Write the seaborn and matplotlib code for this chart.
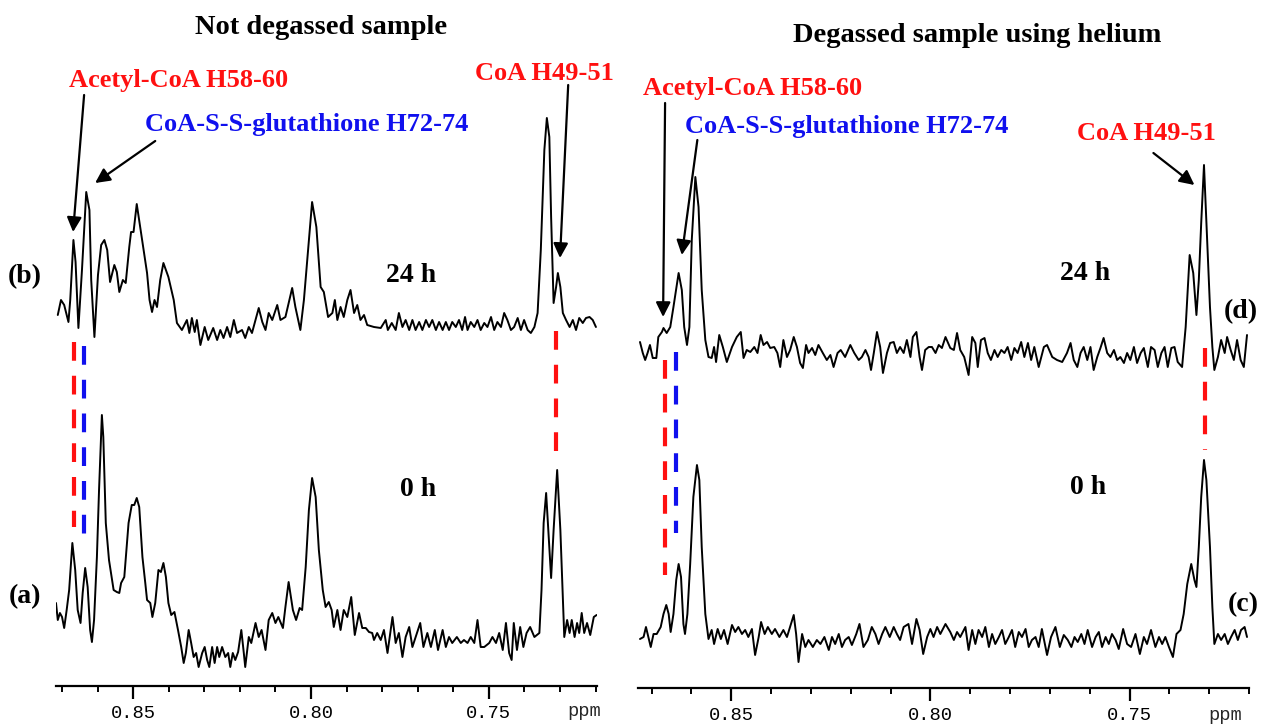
import numpy as np
import matplotlib
matplotlib.use("Agg")
import matplotlib.pyplot as plt
import seaborn as sns
from matplotlib.ticker import FixedLocator, MultipleLocator, FormatStrFormatter

# ---------------- data (ppm, intensity above baseline) ----------------
# left panel, 24 h (b)
b_ppm = [0.8712, 0.8703, 0.8694, 0.8682, 0.8677, 0.8668, 0.8662, 0.8654, 0.8644, 0.8632,
         0.8623, 0.8618, 0.8609, 0.8599, 0.8590, 0.8581, 0.8573, 0.8565, 0.8553, 0.8546,
         0.8539, 0.8529, 0.8521, 0.8511, 0.8506, 0.8499, 0.8490, 0.8475, 0.8461, 0.8454,
         0.8447, 0.8440, 0.8433, 0.8424, 0.8415, 0.8401, 0.8386, 0.8377, 0.8363, 0.8349,
         0.8342, 0.8335, 0.8327, 0.8321, 0.8311, 0.8299, 0.8289, 0.8275, 0.8264, 0.8255,
         0.8246, 0.8236, 0.8227, 0.8217, 0.8208, 0.8194, 0.8185, 0.8175, 0.8166, 0.8147,
         0.8137, 0.8128, 0.8119, 0.8109, 0.8095, 0.8086, 0.8072, 0.8053, 0.8044, 0.8030,
         0.8020, 0.8006, 0.7997, 0.7985, 0.7973, 0.7964, 0.7952, 0.7940, 0.7933, 0.7926,
         0.7917, 0.7908, 0.7898, 0.7889, 0.7879, 0.7870, 0.7861, 0.7851, 0.7842, 0.7823,
         0.7804, 0.7790, 0.7784, 0.7773, 0.7762, 0.7753, 0.7743, 0.7734, 0.7724, 0.7715,
         0.7706, 0.7696, 0.7687, 0.7677, 0.7668, 0.7659, 0.7649, 0.7640, 0.7630, 0.7621,
         0.7612, 0.7603, 0.7593, 0.7584, 0.7575, 0.7567, 0.7560, 0.7551, 0.7541, 0.7532,
         0.7523, 0.7513, 0.7504, 0.7494, 0.7485, 0.7476, 0.7466, 0.7457, 0.7448, 0.7438,
         0.7429, 0.7419, 0.7410, 0.7401, 0.7391, 0.7382, 0.7372, 0.7363, 0.7354, 0.7344,
         0.7337, 0.7330, 0.7325, 0.7318, 0.7311, 0.7306, 0.7299, 0.7292, 0.7283, 0.7273,
         0.7264, 0.7255, 0.7246, 0.7236, 0.7227, 0.7217, 0.7208, 0.7199]
b_int = [15, 30, 25, 8, 30, 90, 68, 2, 60, 138,
         120, 50, -7, 55, 85, 90, 80, 48, 65, 58,
         38, 50, 47, 83, 98, 98, 126, 90, 57, 30,
         18, 30, 23, 50, 67, 53, 30, 7, 0, 10,
         -3, 12, -2, 10, -15, 3, -10, 2, -10, 0,
         -8, 3, -7, 10, -3, 0, -8, 3, -3, 22,
         8, 0, 17, 10, 25, 10, 13, 42, 23, 0,
         30, 90, 128, 103, 43, 38, 13, 17, 30, 10,
         23, 13, 30, 40, 17, 25, 10, 15, 5, 3,
         2, 10, 0, 7, 0, 17, 3, 10, 0, 10,
         0, 8, 0, 10, 3, 10, 0, 8, 0, 8,
         0, 8, 3, 10, 0, 13, 0, 8, 3, 10,
         0, 7, 3, 13, 0, 8, 3, 17, 10, 0,
         3, 12, 0, 10, 0, -3, 3, 17, 80, 180,
         212, 193, 113, 27, 43, 57, 43, 17, 10, 3,
         10, 0, 12, 7, 12, 13, 10, 3]

# left panel, 0 h (a)
a_ppm = [0.8717, 0.8712, 0.8706, 0.8700, 0.8694, 0.8687, 0.8680, 0.8671, 0.8663, 0.8656,
         0.8648, 0.8642, 0.8635, 0.8628, 0.8621, 0.8616, 0.8610, 0.8602, 0.8596, 0.8588,
         0.8584, 0.8577, 0.8568, 0.8555, 0.8546, 0.8539, 0.8534, 0.8525, 0.8513, 0.8504,
         0.8497, 0.8490, 0.8483, 0.8474, 0.8466, 0.8461, 0.8452, 0.8446, 0.8438, 0.8429,
         0.8422, 0.8415, 0.8408, 0.8401, 0.8393, 0.8384, 0.8374, 0.8365, 0.8358, 0.8352,
         0.8344, 0.8337, 0.8330, 0.8323, 0.8316, 0.8306, 0.8299, 0.8292, 0.8286, 0.8278,
         0.8271, 0.8264, 0.8258, 0.8250, 0.8241, 0.8233, 0.8227, 0.8220, 0.8213, 0.8205,
         0.8196, 0.8189, 0.8185, 0.8175, 0.8168, 0.8156, 0.8147, 0.8139, 0.8128, 0.8119,
         0.8109, 0.8100, 0.8092, 0.8079, 0.8072, 0.8063, 0.8051, 0.8042, 0.8032, 0.8025,
         0.8015, 0.8006, 0.7997, 0.7987, 0.7978, 0.7967, 0.7959, 0.7950, 0.7942, 0.7936,
         0.7926, 0.7917, 0.7908, 0.7898, 0.7887, 0.7877, 0.7865, 0.7856, 0.7846, 0.7837,
         0.7828, 0.7823, 0.7814, 0.7804, 0.7795, 0.7785, 0.7771, 0.7762, 0.7753, 0.7743,
         0.7734, 0.7724, 0.7715, 0.7706, 0.7693, 0.7684, 0.7673, 0.7663, 0.7652, 0.7643,
         0.7630, 0.7621, 0.7612, 0.7603, 0.7590, 0.7579, 0.7570, 0.7560, 0.7551, 0.7541,
         0.7532, 0.7523, 0.7513, 0.7499, 0.7490, 0.7480, 0.7471, 0.7461, 0.7452, 0.7443,
         0.7436, 0.7430, 0.7421, 0.7412, 0.7403, 0.7394, 0.7384, 0.7372, 0.7358, 0.7352,
         0.7346, 0.7339, 0.7333, 0.7325, 0.7318, 0.7308, 0.7299, 0.7292, 0.7288, 0.7280,
         0.7273, 0.7267, 0.7259, 0.7252, 0.7246, 0.7239, 0.7232, 0.7224, 0.7215, 0.7205,
         0.7197]
a_int = [42, 25, 32, 28, 17, 35, 55, 102, 75, 35,
         22, 52, 77, 58, 15, 3, 25, 88, 155, 230,
         208, 122, 85, 55, 53, 52, 62, 68, 122, 140,
         140, 147, 138, 88, 62, 45, 42, 28, 42, 75,
         73, 82, 68, 42, 30, 33, 15, -2, -18, -8,
         15, 2, -12, -8, -22, -8, -2, -15, -22, -2,
         -18, -2, -12, -2, -12, -8, -22, -8, -15, -7,
         15, -8, -22, 8, 2, 22, 8, 15, -5, 25,
         32, 22, 28, 17, 38, 63, 35, 25, 37, 35,
         78, 135, 167, 148, 95, 55, 38, 43, 35, 18,
         35, 15, 35, 28, 48, 10, 32, 17, 17, 13,
         12, 5, 12, 5, 15, -8, 28, 2, 12, -12,
         8, 18, -2, 8, 22, -2, 12, -2, 15, -5,
         15, -2, 8, 2, 8, 2, 5, 2, 8, 2,
         25, -2, -2, 2, 8, 2, 12, -5, 22, -8,
         -15, 22, -5, 18, -2, 12, 18, 8, 12, 55,
         122, 152, 115, 67, 115, 175, 115, 48, 8, 25,
         12, 25, 8, 22, 12, 32, 12, 22, 10, 28,
         30]

# right panel, 24 h (d)
d_ppm = [0.8729, 0.8722, 0.8716, 0.8710, 0.8704, 0.8697, 0.8688, 0.8683, 0.8674, 0.8670,
         0.8662, 0.8653, 0.8645, 0.8632, 0.8624, 0.8618, 0.8611, 0.8605, 0.8599, 0.8590,
         0.8582, 0.8574, 0.8565, 0.8557, 0.8549, 0.8543, 0.8538, 0.8530, 0.8521, 0.8511,
         0.8498, 0.8486, 0.8476, 0.8469, 0.8461, 0.8452, 0.8442, 0.8434, 0.8426, 0.8419,
         0.8410, 0.8402, 0.8392, 0.8384, 0.8377, 0.8369, 0.8360, 0.8352, 0.8343, 0.8335,
         0.8327, 0.8320, 0.8312, 0.8306, 0.8297, 0.8289, 0.8281, 0.8270, 0.8260, 0.8251,
         0.8243, 0.8233, 0.8225, 0.8214, 0.8201, 0.8191, 0.8180, 0.8172, 0.8163, 0.8155,
         0.8149, 0.8142, 0.8134, 0.8126, 0.8119, 0.8109, 0.8101, 0.8092, 0.8084, 0.8076,
         0.8067, 0.8059, 0.8050, 0.8044, 0.8035, 0.8027, 0.8021, 0.8013, 0.8004, 0.7996,
         0.7987, 0.7979, 0.7971, 0.7962, 0.7950, 0.7941, 0.7933, 0.7925, 0.7915, 0.7904,
         0.7895, 0.7887, 0.7881, 0.7873, 0.7864, 0.7856, 0.7848, 0.7839, 0.7831, 0.7822,
         0.7814, 0.7806, 0.7797, 0.7789, 0.7781, 0.7772, 0.7764, 0.7755, 0.7747, 0.7739,
         0.7728, 0.7715, 0.7707, 0.7694, 0.7682, 0.7669, 0.7657, 0.7648, 0.7640, 0.7631,
         0.7623, 0.7615, 0.7606, 0.7598, 0.7590, 0.7581, 0.7573, 0.7565, 0.7556, 0.7548,
         0.7539, 0.7531, 0.7523, 0.7514, 0.7506, 0.7498, 0.7489, 0.7481, 0.7472, 0.7464,
         0.7454, 0.7446, 0.7437, 0.7429, 0.7420, 0.7412, 0.7404, 0.7395, 0.7387, 0.7379,
         0.7368, 0.7359, 0.7349, 0.7340, 0.7332, 0.7326, 0.7320, 0.7313, 0.7307, 0.7298,
         0.7292, 0.7287, 0.7278, 0.7270, 0.7261, 0.7255, 0.7246, 0.7238, 0.7230, 0.7221,
         0.7213, 0.7205]
d_int = [13, 2, -5, 2, 10, -3, -3, 18, 23, 27,
         22, 28, 48, 82, 65, 28, 10, 28, 115, 178,
         148, 65, 15, -2, -3, 8, -7, 20, 8, -7,
         8, 18, 23, -3, 5, 3, 8, 2, 20, 10,
         13, 7, 8, 2, -12, 15, -2, 5, 18, 8,
         -8, -13, 10, 2, 7, 0, 10, 2, -5, 0,
         -12, 2, 5, -2, 10, 2, -5, -2, 5, -2,
         -15, 2, 23, 8, -18, 2, 12, 13, 2, 8,
         2, 15, -2, 18, 23, -2, -15, 5, 8, 8,
         2, 10, 7, 18, 7, 5, 22, 5, -2, -20,
         18, 12, -12, 15, 17, 2, -5, 5, -2, 5,
         2, 8, -5, 7, 2, 13, -2, 12, -5, 8,
         -12, 8, 10, -2, -5, -7, 2, 12, -5, -12,
         2, 8, -5, 8, -15, -2, 7, 17, 2, -2,
         5, -5, -2, -8, 2, -5, 8, -8, 2, 7,
         -12, 8, 5, -12, 2, 8, -12, 7, 8, -7,
         -12, 28, 100, 82, 40, 75, 132, 190, 132, 48,
         8, -15, -2, 15, 2, 18, 5, -5, 15, -5,
         -12, 20]

# right panel, 0 h (c)
c_ppm = [0.8729, 0.8720, 0.8714, 0.8708, 0.8702, 0.8695, 0.8687, 0.8677, 0.8670, 0.8663,
         0.8657, 0.8652, 0.8645, 0.8638, 0.8632, 0.8626, 0.8620, 0.8616, 0.8610, 0.8603,
         0.8595, 0.8586, 0.8580, 0.8574, 0.8565, 0.8557, 0.8549, 0.8543, 0.8534, 0.8526,
         0.8518, 0.8509, 0.8498, 0.8490, 0.8482, 0.8473, 0.8465, 0.8457, 0.8448, 0.8440,
         0.8431, 0.8425, 0.8416, 0.8408, 0.8398, 0.8390, 0.8379, 0.8369, 0.8360, 0.8350,
         0.8343, 0.8337, 0.8331, 0.8322, 0.8314, 0.8306, 0.8295, 0.8285, 0.8276, 0.8266,
         0.8255, 0.8247, 0.8239, 0.8230, 0.8222, 0.8214, 0.8205, 0.8197, 0.8186, 0.8178,
         0.8168, 0.8157, 0.8147, 0.8138, 0.8130, 0.8121, 0.8113, 0.8102, 0.8092, 0.8084,
         0.8076, 0.8067, 0.8055, 0.8046, 0.8035, 0.8027, 0.8018, 0.8008, 0.8000, 0.7992,
         0.7983, 0.7975, 0.7962, 0.7950, 0.7941, 0.7933, 0.7925, 0.7912, 0.7904, 0.7895,
         0.7887, 0.7879, 0.7870, 0.7862, 0.7853, 0.7845, 0.7837, 0.7828, 0.7820, 0.7812,
         0.7803, 0.7795, 0.7787, 0.7778, 0.7770, 0.7761, 0.7753, 0.7745, 0.7736, 0.7728,
         0.7720, 0.7707, 0.7697, 0.7686, 0.7675, 0.7665, 0.7655, 0.7646, 0.7638, 0.7630,
         0.7621, 0.7613, 0.7605, 0.7594, 0.7585, 0.7577, 0.7569, 0.7560, 0.7552, 0.7544,
         0.7535, 0.7527, 0.7516, 0.7506, 0.7496, 0.7485, 0.7474, 0.7464, 0.7456, 0.7446,
         0.7435, 0.7426, 0.7418, 0.7410, 0.7401, 0.7391, 0.7382, 0.7372, 0.7364, 0.7355,
         0.7345, 0.7337, 0.7332, 0.7326, 0.7320, 0.7313, 0.7307, 0.7298, 0.7292, 0.7287,
         0.7278, 0.7270, 0.7261, 0.7253, 0.7245, 0.7236, 0.7228, 0.7220, 0.7211, 0.7205]
c_int = [8, 10, 20, 10, 0, 13, 13, 20, 33, 42,
         33, 15, 33, 67, 83, 70, 23, 13, 33, 83,
         150, 182, 167, 100, 33, 8, 17, 3, 18, 8,
         17, 3, 22, 15, 20, 13, 17, 10, 18, -8,
         10, 25, 13, 20, 13, 18, 10, 17, 10, 23,
         32, 13, -15, 13, 0, 7, 0, 7, 3, 10,
         -3, 10, 3, 13, 0, 7, 10, 2, 13, 23,
         0, 7, 20, 13, 3, 13, 20, 10, 20, 13,
         7, 20, 23, 3, 28, 17, -7, 10, 18, 10,
         20, 13, 23, 15, 7, 15, 10, 20, -3, 17,
         3, 17, 10, 20, 0, 13, 3, 10, 17, 3,
         10, 17, 0, 15, 10, 18, 0, 7, 10, 0,
         18, -8, 10, 20, 0, 12, 7, 0, 10, 5,
         13, 3, 17, 0, 10, 15, 0, 10, 3, 13,
         7, -2, 18, 3, 0, 13, -7, 10, 3, 17,
         0, 10, 3, 10, 0, -10, 13, 17, 33, 63,
         83, 67, 60, 100, 150, 187, 167, 100, 40, 3,
         13, 7, 13, 3, 10, 17, 7, 17, 20, 10]

# peak positions marked with dashed guides
acetyl_ppm = 0.8667
glut_ppm = 0.8638
coa_ppm = 0.7310

major_ticks = [0.85, 0.80, 0.75]

# ---------------- figure ----------------
sns.set_theme(style="white")
plt.rcParams['font.family'] = ['Liberation Serif', 'DejaVu Serif']

W, H = 1263, 725
fig = plt.figure(figsize=(W / 100, H / 100), dpi=100)
fig.patch.set_facecolor('white')

RED = '#ff1010'
BLUE = '#1010ee'

# axes in pixel-like units: y = height above the bottom spine
ax_l = fig.add_axes([56 / W, (H - 686) / H, (597 - 56) / W, 686 / H])
ax_r = fig.add_axes([638 / W, (H - 688) / H, (1249 - 638) / W, 688 / H])


def style_axis(ax, xlim, ytop):
    ax.set_xlim(*xlim)
    ax.set_ylim(0, ytop)
    ax.set_facecolor('none')
    ax.grid(False)
    for s in ['top', 'left', 'right']:
        ax.spines[s].set_visible(False)
    ax.spines['bottom'].set_color('black')
    ax.spines['bottom'].set_linewidth(1.6)
    ax.xaxis.set_major_locator(FixedLocator(major_ticks))
    ax.xaxis.set_minor_locator(MultipleLocator(0.01))
    ax.xaxis.set_major_formatter(FormatStrFormatter('%.2f'))
    ax.tick_params(axis='x', which='major', direction='out', length=9, width=1.6,
                   pad=5, labelsize=13.5, bottom=True, colors='black',
                   labelfontfamily='Liberation Mono')
    ax.tick_params(axis='x', which='minor', direction='out', length=4.5, width=1.4,
                   bottom=True, colors='black')
    ax.set_yticks([])
    ax.set_xlabel('')
    ax.set_ylabel('')


def trace(ax, ppm, inten, offset):
    sns.lineplot(x=np.array(ppm), y=np.array(inten) + offset, ax=ax,
                 color='black', linewidth=1.4, estimator=None)


def guide(ax, x, top, bottom, color):
    ax.plot([x, x], [top, bottom], color=color, lw=3,
            linestyle=(0, (4.5, 3.6)), solid_capstyle='butt', dash_capstyle='butt')


def arrow(ax, tail, head):
    ax.annotate('', xy=head, xytext=tail,
                arrowprops=dict(arrowstyle='-|>', color='black', lw=1.6,
                                mutation_scale=22, shrinkA=0, shrinkB=0))


def label(ax, x, y, s, color='black', size=19):
    ax.text(x, y, s, color=color, fontsize=size, fontweight='bold',
            ha='center', va='center', clip_on=False)


# ---- left: not degassed ----
style_axis(ax_l, (0.8717, 0.7196), 686)
trace(ax_l, b_ppm, b_int, 356)
trace(ax_l, a_ppm, a_int, 41)

guide(ax_l, acetyl_ppm, 344, 159, RED)
guide(ax_l, glut_ppm, 340, 152, BLUE)
guide(ax_l, coa_ppm, 355, 234, RED)

arrow(ax_l, (0.8638, 591), (0.8669, 454))
arrow(ax_l, (0.8438, 545), (0.8607, 503))
arrow(ax_l, (0.7277, 601), (0.7300, 428))

label(ax_l, 0.7973, 658, 'Not degassed sample', size=20.5)
label(ax_l, 0.8373, 606, 'Acetyl-CoA H58-60', RED)
label(ax_l, 0.8013, 561, 'CoA-S-S-glutathione H72-74', BLUE)
label(ax_l, 0.7345, 613, 'CoA H49-51', RED)
label(ax_l, 0.8804, 409, '(b)', size=20)
label(ax_l, 0.8804, 89, '(a)', size=20)
label(ax_l, 0.7720, 411, '24 h', size=20)
label(ax_l, 0.7700, 196, '0 h', size=20)
ax_l.text(0.7232, -26, 'ppm', fontsize=13.5, family='Liberation Mono',
          ha='center', va='center', clip_on=False)

# ---- right: degassed with helium ----
style_axis(ax_r, (0.8734, 0.7200), 688)
trace(ax_r, d_ppm, d_int, 333)
trace(ax_r, c_ppm, c_int, 41)

guide(ax_r, acetyl_ppm, 328, 113, RED)
guide(ax_r, glut_ppm, 336, 155, BLUE)
guide(ax_r, coa_ppm, 340, 238, RED)

arrow(ax_r, (0.8666, 585), (0.8671, 371))
arrow(ax_r, (0.8585, 548), (0.8624, 433))
arrow(ax_r, (0.7440, 535), (0.7337, 503))

label(ax_r, 0.7882, 653, 'Degassed sample using helium', size=20.5)
label(ax_r, 0.8447, 600, 'Acetyl-CoA H58-60', RED)
label(ax_r, 0.8209, 561, 'CoA-S-S-glutathione H72-74', BLUE)
label(ax_r, 0.7457, 555, 'CoA H49-51', RED)
label(ax_r, 0.7611, 415, '24 h', size=20)
label(ax_r, 0.7603, 200, '0 h', size=20)
label(ax_r, 0.7221, 376, '(d)', size=20)
label(ax_r, 0.7214, 83, '(c)', size=20)
ax_r.text(0.7259, -27, 'ppm', fontsize=13.5, family='Liberation Mono',
          ha='center', va='center', clip_on=False)

fig.savefig('out.png', dpi=100)
plt.close(fig)
